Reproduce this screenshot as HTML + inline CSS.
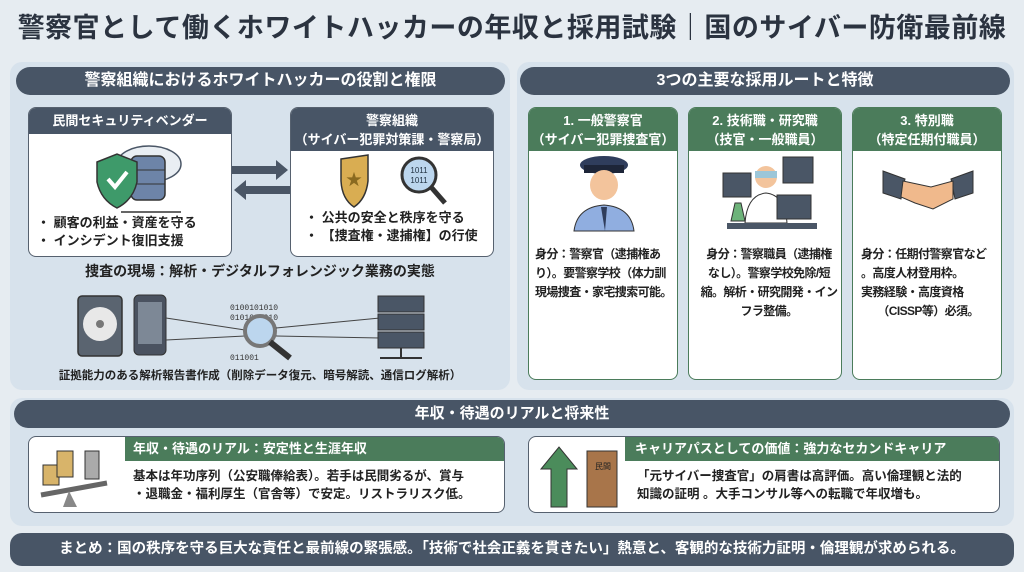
<!DOCTYPE html>
<html><head><meta charset="utf-8"><style>
*{margin:0;padding:0;box-sizing:border-box}
body{width:1024px;height:572px;background:#e6ecf1;font-family:"Liberation Sans","Noto Sans CJK JP",sans-serif;position:relative;overflow:hidden;color:#222}
.a{position:absolute}
.title{left:0;top:0;width:1024px;height:56px;font-size:27px;font-weight:bold;color:#2b3340;text-align:center;line-height:56px;letter-spacing:0.5px}
.panel{background:#d7e2ec;border-radius:12px}
.hd{background:#485566;color:#fff;font-weight:bold;text-align:center;border-radius:14px}
.box{background:#fff;border:1.5px solid #56616f;border-radius:8px;overflow:hidden}
.bh{background:#485566;color:#fff;font-weight:bold;text-align:center;font-size:13px}
.gh{background:#4b7c5b;color:#fff;font-weight:bold;text-align:center;font-size:13px;line-height:19px}
.t{font-size:12.5px;font-weight:bold;line-height:18px}
.ct{font-size:12px;letter-spacing:-0.6px;white-space:nowrap;line-height:19px}
</style></head><body>
<div class="a title">警察官として働くホワイトハッカーの年収と採用試験｜国のサイバー防衛最前線</div>

<div class="a panel" style="left:10px;top:62px;width:500px;height:328px"></div>
<div class="a hd" style="left:16px;top:67px;width:489px;height:28px;line-height:28px;font-size:16px">警察組織におけるホワイトハッカーの役割と権限</div>

<div class="a box" style="left:28px;top:107px;width:204px;height:150px">
 <div class="bh" style="height:26px;line-height:26px">民間セキュリティベンダー</div>
 <svg width="204" height="80" style="display:block">
  <ellipse cx="120" cy="30" rx="32" ry="18" fill="#e9eef3" stroke="#4a5666" stroke-width="1.5"/>
  <rect x="102" y="22" width="34" height="44" rx="6" fill="#6d84a8" stroke="#333" stroke-width="1.5"/>
  <line x1="102" y1="36" x2="136" y2="36" stroke="#333"/><line x1="102" y1="50" x2="136" y2="50" stroke="#333"/>
  <line x1="92" y1="78" x2="152" y2="78" stroke="#333" stroke-width="1.5"/>
  <path d="M68 28 L88 20 L108 28 L108 48 Q104 66 88 74 Q72 66 68 48 Z" fill="#3e9a6a" stroke="#333" stroke-width="1.5"/>
  <path d="M79 45 L86 53 L98 38" fill="none" stroke="#fff" stroke-width="4"/>
 </svg>
 <div class="t" style="padding-left:8px;font-size:13px">・ 顧客の利益・資産を守る<br>・ インシデント復旧支援</div>
</div>
<div class="a box" style="left:290px;top:107px;width:204px;height:150px">
 <div class="bh" style="height:43px;line-height:19px;padding-top:3px">警察組織<br>（サイバー犯罪対策課・警察局）</div>
 <svg width="204" height="58" style="display:block">
  <path d="M55 8 L82 4 L82 30 Q80 48 68 56 Q56 48 55 30 Z" fill="#d9ad52" stroke="#333" stroke-width="1.5" transform="translate(-5,0)"/>
  <text x="63" y="34" font-size="16" text-anchor="middle" fill="#8a6a20">★</text>
  <circle cx="128" cy="24" r="17" fill="#bcd6ee" stroke="#333" stroke-width="3"/>
  <line x1="140" y1="36" x2="154" y2="52" stroke="#333" stroke-width="5"/>
  <text x="128" y="22" font-size="8" text-anchor="middle" fill="#234">1011</text><text x="128" y="32" font-size="8" text-anchor="middle" fill="#234">1011</text>
 </svg>
 <div class="t" style="padding-left:14px;font-size:13px">・ 公共の安全と秩序を守る<br>・ 【捜査権・逮捕権】の行使</div>
</div>
<svg class="a" style="left:232px;top:160px" width="58" height="44">
 <path d="M0 6 H44 V0 L56 10 L44 20 V14 H0 Z" fill="#4a5666"/>
 <path d="M58 26 H14 V20 L2 30 L14 40 V34 H58 Z" fill="#4a5666"/>
</svg>
<div class="a t" style="left:10px;top:262px;width:500px;text-align:center;font-size:14px">捜査の現場：解析・デジタルフォレンジック業務の実態</div>
<svg class="a" style="left:70px;top:288px" width="400" height="74">
 <rect x="8" y="8" width="44" height="60" rx="4" fill="#5a6470" stroke="#333" stroke-width="1.5"/>
 <circle cx="30" cy="36" r="17" fill="#e8e8e8"/><circle cx="30" cy="36" r="4" fill="#777"/>
 <rect x="64" y="7" width="32" height="60" rx="5" fill="#4a5260" stroke="#333"/><rect x="68" y="14" width="24" height="42" fill="#7d8896"/>
 <line x1="96" y1="30" x2="175" y2="42" stroke="#444"/><line x1="96" y1="52" x2="175" y2="48" stroke="#444"/>
 <text x="160" y="22" font-size="8" font-family="Liberation Mono" fill="#333">0100101010</text>
 <text x="160" y="32" font-size="8" font-family="Liberation Mono" fill="#333">0101001010</text>
 <text x="160" y="72" font-size="8" font-family="Liberation Mono" fill="#333">011001</text>
 <circle cx="190" cy="43" r="15" fill="#bcd6ee" stroke="#777" stroke-width="4"/>
 <line x1="200" y1="54" x2="220" y2="70" stroke="#333" stroke-width="6"/>
 <line x1="206" y1="40" x2="310" y2="30" stroke="#444"/><line x1="206" y1="48" x2="310" y2="50" stroke="#444"/>
 <rect x="308" y="8" width="46" height="16" fill="#4a5666" stroke="#333"/><rect x="308" y="26" width="46" height="16" fill="#4a5666" stroke="#333"/><rect x="308" y="44" width="46" height="16" fill="#4a5666" stroke="#333"/>
 <line x1="331" y1="60" x2="331" y2="70" stroke="#333" stroke-width="2"/><line x1="310" y1="70" x2="352" y2="70" stroke="#333" stroke-width="2"/>
</svg>
<div class="a" style="left:10px;top:367px;width:500px;text-align:center;font-size:11.5px;font-weight:bold">証拠能力のある解析報告書作成（削除データ復元、暗号解読、通信ログ解析）</div>

<div class="a panel" style="left:517px;top:62px;width:497px;height:328px"></div>
<div class="a hd" style="left:520px;top:67px;width:490px;height:28px;line-height:28px;font-size:16px">3つの主要な採用ルートと特徴</div>

<div class="a box" style="left:528px;top:107px;width:150px;height:273px;border-color:#4b7c5b">
 <div class="gh" style="height:43px;padding-top:3px">1. 一般警察官<br>（サイバー犯罪捜査官）</div>
 <svg width="150" height="84" style="display:block">
  <ellipse cx="75" cy="14" rx="24" ry="9" fill="#2f3d5c"/><rect x="55" y="14" width="40" height="8" fill="#1d2538"/>
  <ellipse cx="75" cy="34" rx="14" ry="15" fill="#f3c49c"/>
  <path d="M45 80 Q48 56 75 54 Q102 56 105 80 Z" fill="#90aee0" stroke="#333"/>
  <path d="M72 56 L78 56 L76 80 Z" fill="#2f3d5c"/>
 </svg>
 <div class="t ct" style="padding:10px 0 0 6px">身分：警察官（逮捕権あ<br>り）。要警察学校（体力訓<br>現場捜査・家宅捜索可能。</div>
</div>
<div class="a box" style="left:688px;top:107px;width:154px;height:273px;border-color:#4b7c5b">
 <div class="gh" style="height:43px;padding-top:3px">2. 技術職・研究職<br>（技官・一般職員）</div>
 <svg width="154" height="84" style="display:block">
  <rect x="34" y="22" width="28" height="24" fill="#4a5666" stroke="#333"/>
  <rect x="94" y="6" width="30" height="26" fill="#4a5666" stroke="#333"/>
  <circle cx="77" cy="26" r="11" fill="#f3c49c"/><rect x="66" y="20" width="22" height="7" fill="#9cc6d8"/>
  <path d="M56 72 Q58 44 77 42 Q96 44 98 72 Z" fill="#fff" stroke="#333"/>
  <rect x="88" y="44" width="34" height="24" fill="#4a5666" stroke="#333"/>
  <rect x="38" y="72" width="90" height="6" fill="#4a5666"/>
  <path d="M46 52 L52 52 L56 70 L42 70 Z" fill="#6db37a" stroke="#333"/>
 </svg>
 <div class="t ct" style="padding:10px 0 0 10px;text-align:center;width:150px">身分：警察職員（逮捕権<br>なし）。警察学校免除/短<br>縮。解析・研究開発・イン<br>フラ整備。</div>
</div>
<div class="a box" style="left:852px;top:107px;width:150px;height:273px;border-color:#4b7c5b">
 <div class="gh" style="height:43px;padding-top:3px">3. 特別職<br>（特定任期付職員）</div>
 <svg width="150" height="84" style="display:block">
  <path d="M30 20 L52 28 L48 48 L30 42 Z" fill="#4a5666" stroke="#333"/>
  <path d="M120 20 L98 28 L102 48 L120 42 Z" fill="#4a5666" stroke="#333"/>
  <path d="M50 30 L78 36 L100 30 L100 48 L80 58 L62 52 L48 46 Z" fill="#f0b98c" stroke="#333"/>
 </svg>
 <div class="t ct" style="padding:10px 0 0 8px">身分：任期付警察官など<br>。高度人材登用枠。<br>実務経験・高度資格<br>&nbsp;&nbsp;&nbsp;&nbsp;&nbsp;&nbsp;（CISSP等）必須。</div>
</div>

<div class="a panel" style="left:10px;top:398px;width:1004px;height:128px"></div>
<div class="a hd" style="left:14px;top:400px;width:996px;height:28px;line-height:28px;font-size:15px">年収・待遇のリアルと将来性</div>
<div class="a box" style="left:28px;top:436px;width:477px;height:77px">
 <div class="gh a" style="left:96px;top:0;width:380px;height:24px;line-height:24px;text-align:left;padding-left:8px">年収・待遇のリアル：安定性と生涯年収</div>
 <svg class="a" style="left:8px;top:8px" width="80" height="64">
  <rect x="6" y="20" width="16" height="20" fill="#d8b46a" stroke="#333"/><rect x="20" y="6" width="16" height="26" fill="#d8b46a" stroke="#333"/><rect x="48" y="6" width="14" height="28" fill="#aaa" stroke="#333"/>
  <line x1="4" y1="50" x2="70" y2="38" stroke="#666" stroke-width="5"/><path d="M32 46 L40 62 L26 62 Z" fill="#888"/>
 </svg>
 <div class="a t" style="left:104px;top:30px;font-size:12.5px">基本は年功序列（公安職俸給表）。若手は民間劣るが、賞与<br>・退職金・福利厚生（官舎等）で安定。リストラリスク低。</div>
</div>
<div class="a box" style="left:528px;top:436px;width:472px;height:77px">
 <div class="gh a" style="left:96px;top:0;width:376px;height:24px;line-height:24px;text-align:left;padding-left:10px">キャリアパスとしての価値：強力なセカンドキャリア</div>
 <svg class="a" style="left:6px;top:6px" width="90" height="66">
  <path d="M16 64 V26 H6 L24 4 L42 26 H32 V64 Z" fill="#4b8c5b" stroke="#333"/>
  <rect x="52" y="8" width="30" height="56" fill="#a8754a" stroke="#333"/>
  <text x="60" y="26" font-size="8" fill="#222">民間</text>
 </svg>
 <div class="a t" style="left:108px;top:30px;font-size:12.5px">「元サイバー捜査官」の肩書は高評価。高い倫理観と法的<br>知識の証明 。大手コンサル等への転職で年収増も。</div>
</div>
<div class="a hd" style="left:10px;top:533px;width:1004px;height:33px;line-height:33px;font-size:14.5px;border-radius:12px">まとめ：国の秩序を守る巨大な責任と最前線の緊張感。「技術で社会正義を貫きたい」熱意と、客観的な技術力証明・倫理観が求められる。</div>
</body></html>
